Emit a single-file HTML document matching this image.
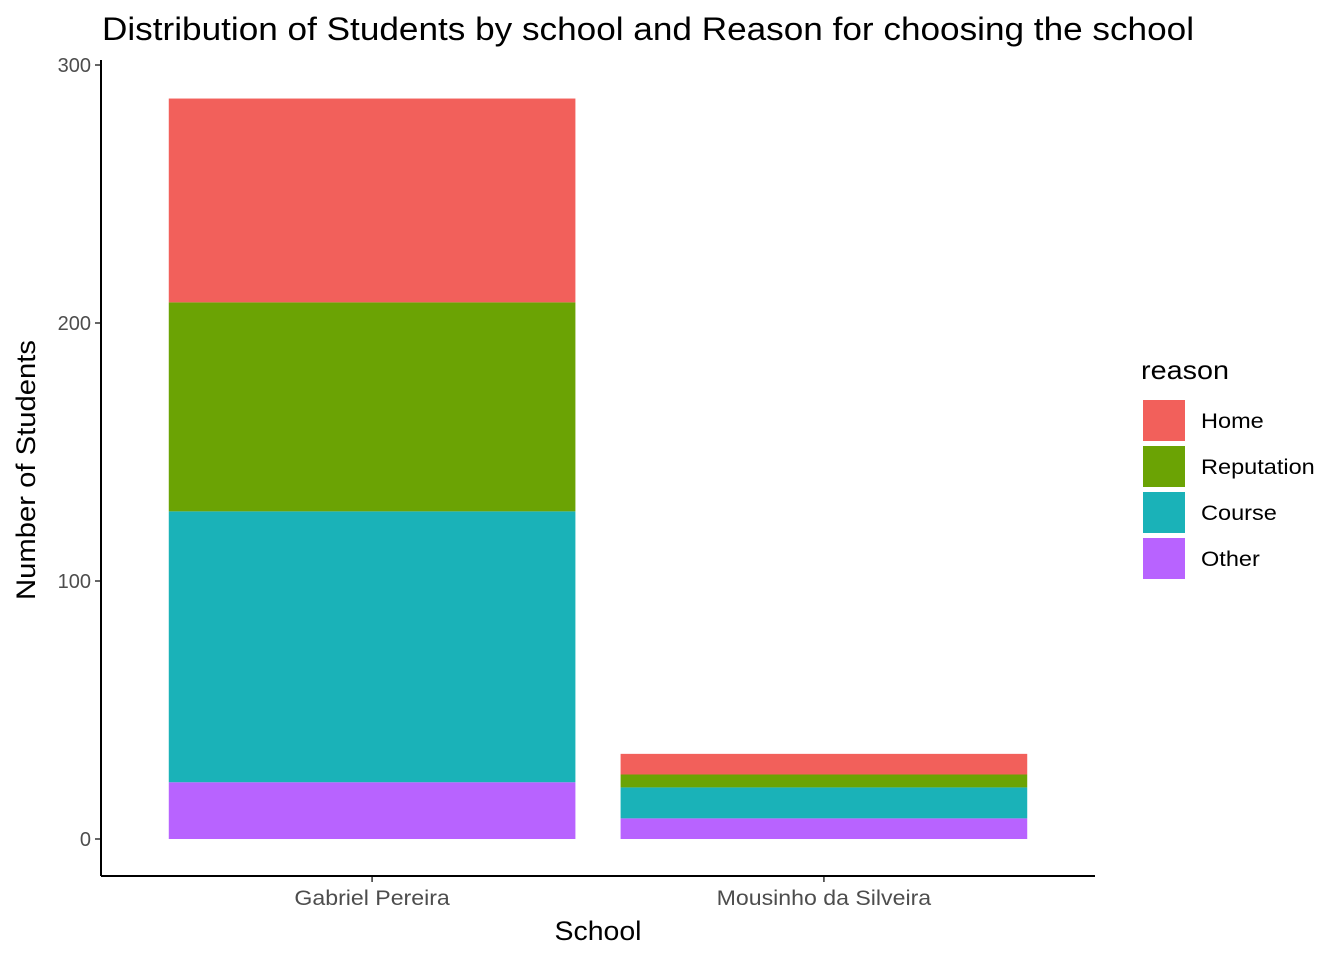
<!DOCTYPE html>
<html><head><meta charset="utf-8"><style>
body{margin:0;background:#fff;font-family:"Liberation Sans",Arial,sans-serif;}
</style></head><body>
<svg id="chart" width="1344" height="960" xmlns="http://www.w3.org/2000/svg" font-family="Liberation Sans, Arial, sans-serif">
<text x="102" y="40" font-size="32" textLength="1092" lengthAdjust="spacingAndGlyphs" fill="#000">Distribution of Students by school and Reason for choosing the school</text>
<g id="plot"></g>
<text transform="translate(35,470) rotate(-90)" text-anchor="middle" font-size="27" textLength="260" lengthAdjust="spacingAndGlyphs" fill="#000">Number of Students</text>
<text x="598" y="940" text-anchor="middle" font-size="27" textLength="87" lengthAdjust="spacingAndGlyphs" fill="#000">School</text>
<g id="legend"></g>
</svg>
<script>
const categories = ["Gabriel Pereira", "Mousinho da Silveira"];
const reasons = ["Other", "Course", "Reputation", "Home"];
const otherVals = [22, 8];
const courseVals = [105, 12];
const reputationVals = [81, 5];
const homeVals = [79, 8];
const yTicks = [0, 100, 200, 300];
const legendLabels = ["Home", "Reputation", "Course", "Other"];
const fills = {Home:"#F2605B", Reputation:"#6BA304", Course:"#1AB2B8", Other:"#B863FF"};

const NS = "http://www.w3.org/2000/svg";
const plot = document.getElementById('plot');
const x0 = 101, x1 = 1095, yTop = 60, yBot = 876;
const yScale = v => 839 - v * 2.58;
const unit = (x1 - x0) / (categories.length + 0.2);
const xScale = i => x0 + (i + 0.6) * unit;
const barW = 0.9 * unit;
function mk(tag, attrs){const e=document.createElementNS(NS,tag);for(const k in attrs)e.setAttribute(k,attrs[k]);return e;}
function fitText(el, scale){ document.body.offsetHeight; const w = el.getComputedTextLength(); el.setAttribute('textLength', w*scale); el.setAttribute('lengthAdjust','spacingAndGlyphs'); }

const series = {Other:otherVals, Course:courseVals, Reputation:reputationVals, Home:homeVals};
categories.forEach((c,i)=>{
  let cum = 0;
  reasons.forEach(r=>{
    const v = series[r][i];
    const rect = mk('rect',{x:xScale(i)-barW/2, y:yScale(cum+v), width:barW, height:yScale(cum)-yScale(cum+v), fill:fills[r]});
    
    
    plot.appendChild(rect);
    cum += v;
  });
  const t = mk('line',{x1:xScale(i),x2:xScale(i),y1:yBot,y2:yBot+6,stroke:'#333','stroke-width':1.5});
  
  
  plot.appendChild(t);
  const lb = mk('text',{x:xScale(i),y:905,'text-anchor':'middle','font-size':21,fill:'#4d4d4d'});
  lb.textContent = c;
  
  
  plot.appendChild(lb);
  fitText(lb, 1.1);
});
yTicks.forEach(v=>{
  const t = mk('line',{x1:x0-6,x2:x0,y1:yScale(v),y2:yScale(v),stroke:'#333','stroke-width':1.5});
  
  
  plot.appendChild(t);
  const lb = mk('text',{x:x0-10,y:yScale(v)+7,'text-anchor':'end','font-size':20,fill:'#4d4d4d'});
  lb.textContent = v;
  
  
  plot.appendChild(lb);
});
const ya = mk('line',{x1:x0,x2:x0,y1:yTop,y2:yBot,stroke:'#000','stroke-width':2});


plot.appendChild(ya);
const xa = mk('line',{x1:x0,x2:x1,y1:yBot,y2:yBot,stroke:'#000','stroke-width':2});


plot.appendChild(xa);

const legend = document.getElementById('legend');
const lt = mk('text',{x:1141,y:379,'font-size':26,fill:'#000',textLength:88,lengthAdjust:'spacingAndGlyphs'});
lt.textContent = 'reason';


legend.appendChild(lt);
legendLabels.forEach((r,k)=>{
  const y = 400 + k*46;
  const rect = mk('rect',{x:1143,y:y,width:42,height:41,fill:fills[r]});
  
  
  legend.appendChild(rect);
  const tx = mk('text',{x:1201,y:y+28,'font-size':21,fill:'#000'});
  tx.textContent = r;
  
  
  legend.appendChild(tx);
  fitText(tx, 1.12);
});
</script>
</body></html>
